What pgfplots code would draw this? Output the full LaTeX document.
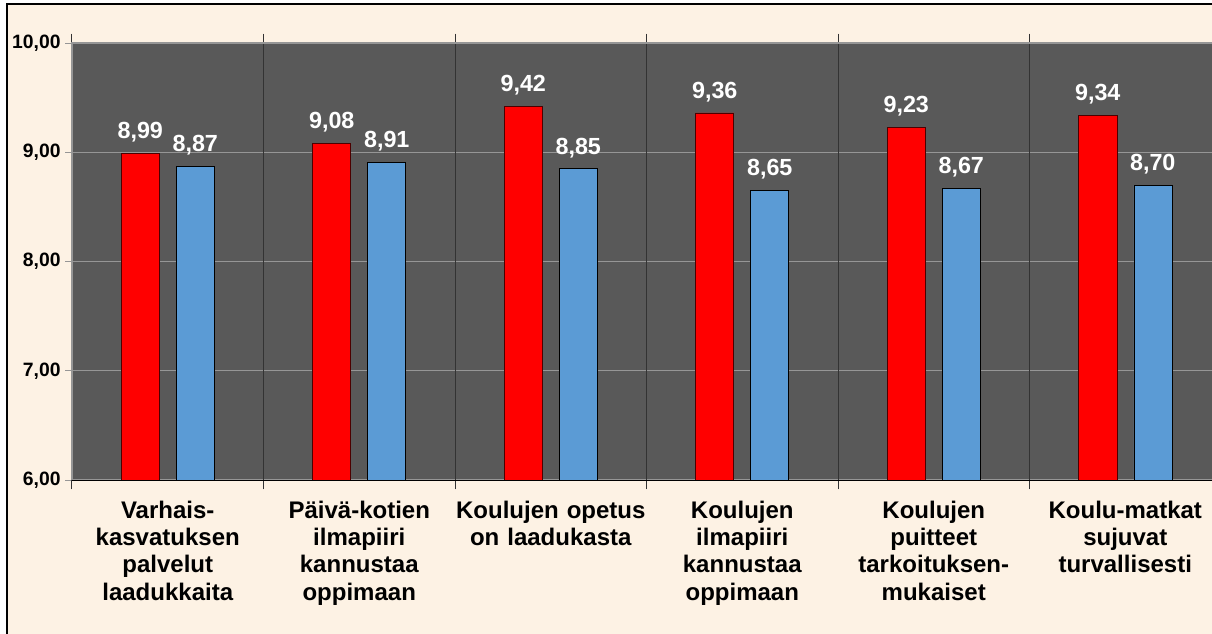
\documentclass[border=0pt]{standalone}
\usepackage{fontspec}
\setmainfont{Liberation Sans}
\usepackage{pgfplots}
\pgfplotsset{compat=1.18}

\definecolor{cream}{HTML}{FDF2E4}
\definecolor{plotgray}{HTML}{595959}
\definecolor{gridgray}{HTML}{969696}
\definecolor{barred}{HTML}{FF0000}
\definecolor{barblue}{HTML}{5B9BD5}

\begin{document}
\begin{tikzpicture}
% page 1212x633 px, 1 px = 0.75 pt
\fill[white] (0,0) rectangle (909pt,474.75pt);
\fill[cream] (5.25pt,-10pt) rectangle (930pt,471.75pt);
\draw[black, line width=1.5pt] (5.25pt,-10pt) -- (5.25pt,471.75pt) -- (930pt,471.75pt);

\begin{axis}[
    at={(54pt,114.75pt)}, anchor=south west,
    scale only axis,
    width=861.75pt, height=327.75pt,
    ybar=12.75pt,
    bar width=28.5pt,
    xmin=-0.5, xmax=5.5,
    ymin=6, ymax=10,
    ytick={6,7,8,9,10},
    /pgf/number format/assume math mode=true,
    yticklabel={\pgfmathprintnumber[fixed,fixed zerofill,precision=2,use comma]{\tick}},
    yticklabel style={font=\bfseries\fontsize{14.5}{16}\selectfont},
    axis background/.style={fill=plotgray},
    axis line style={draw=none},
    tick align=outside,
    major tick length=5pt,
    ymajorgrids,
    major grid style={gridgray, line width=0.9pt},
    ytick style={gridgray, line width=0.75pt},
    xtick={0,1,2,3,4,5},
    xtick style={draw=none},
    xticklabels={
        {Varhais-\\kasvatuksen\\palvelut\\laadukkaita},
        {Päivä-kotien\\ilmapiiri\\kannustaa\\oppimaan},
        {Koulujen opetus\\on laadukasta},
        {Koulujen\\ilmapiiri\\kannustaa\\oppimaan},
        {Koulujen\\puitteet\\tarkoituksen-\\mukaiset},
        {Koulu-matkat\\sujuvat\\turvallisesti}},
    xticklabel style={align=center, text width=150pt, anchor=north,
        font=\bfseries\fontsize{18}{20.5}\selectfont, yshift=-7pt},
    extra x ticks={-0.5,0.5,1.5,2.5,3.5,4.5},
    extra x tick labels={},
    extra x tick style={xmajorgrids, major tick length=7pt,
        major grid style={black!80, line width=0.75pt},
        xtick style={draw=black!80, line width=0.75pt}},
    nodes near coords={\pgfmathprintnumber[fixed,fixed zerofill,precision=2,use comma]{\pgfplotspointmeta}},
    every node near coord/.append style={white, anchor=south, inner sep=0pt,
        yshift=8pt, font=\bfseries\fontsize{17.5}{20}\selectfont},
    clip=false,
]
\addplot[fill=barred, draw=black!70!red] coordinates {
(0,8.99) (1,9.08) (2,9.42) (3,9.36) (4,9.23) (5,9.34)
};
\addplot[fill=barblue, draw=black] coordinates {
(0,8.87) (1,8.91) (2,8.85) (3,8.65) (4,8.67) (5,8.70)
};
\draw[gridgray, line width=1.5pt] (rel axis cs:0,0) -- (rel axis cs:0,1) -- (rel axis cs:1,1);
\draw[black, line width=0.75pt] (rel axis cs:0,0) -- (rel axis cs:1,0);
\end{axis}
\pgfresetboundingbox
\path (0,0) rectangle (909pt,474.75pt);
\end{tikzpicture}
\end{document}
